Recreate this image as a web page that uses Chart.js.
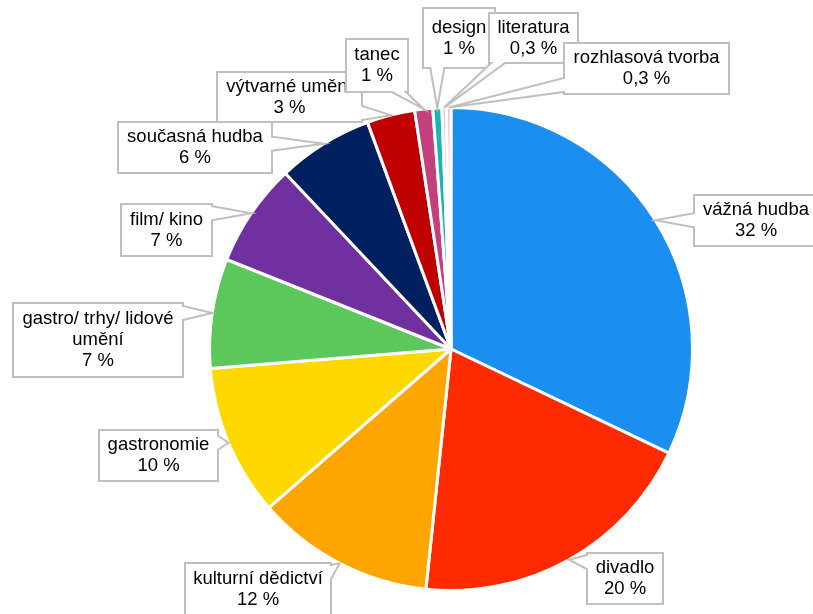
<!DOCTYPE html>
<html>
<head>
<meta charset="utf-8">
<script src="https://cdn.jsdelivr.net/npm/chart.js@4/dist/chart.umd.min.js"></script>
<style>
  html, body { margin: 0; padding: 0; background: #fff; }
  #wrap { width: 813px; height: 614px; }
</style>
</head>
<body>
<div id="wrap"><canvas id="chartObory" width="813" height="614"></canvas></div>
<script>
// ========== DATA ==========
const categories = [
  "vážná hudba", "divadlo", "kulturní dědictví", "gastronomie",
  "gastro/ trhy/ lidové umění", "film/ kino", "současná hudba",
  "výtvarné umění", "tanec", "design", "literatura", "rozhlasová tvorba"
];
const shares = [32.0, 19.5, 11.9, 10.1, 7.3, 6.9, 6.4, 3.2, 1.2, 0.6, 0.3, 0.3];
const colors = [
  "#1B8FEF", "#FF2A00", "#FFA500", "#FFD800", "#5CC85C", "#7030A0",
  "#002060", "#C00000", "#C2407C", "#1AB5B0", "#D6C6F2", "#F4B2E6"
];

// callout boxes (layout only): [left, top, right, bottom]
const labelBoxes = [
  [694, 195, 818, 246], [587, 553, 663, 604], [185, 563, 331, 616],
  [99, 430, 218, 481], [13, 303, 183, 377], [121, 204, 212, 256],
  [118, 122, 272, 173], [217, 72, 362, 122], [346, 39, 408, 92],
  [423, 8, 495, 68], [489, 13, 578, 63], [564, 43, 729, 94]
];

// ========== HELPERS ==========
const FONT = '18.5px "Liberation Sans", Arial, sans-serif';
const LINE_H = 21;

function formatPct(v) {
  if (v >= 0.5) return Math.round(v) + " %";
  return v.toFixed(1).replace(".", ",") + " %";
}

function wrapText(ctx, text, maxW) {
  const words = text.split(" ");
  const lines = [];
  let cur = "";
  words.forEach(w => {
    const test = cur ? cur + " " + w : w;
    if (cur && ctx.measureText(test).width > maxW) {
      lines.push(cur);
      cur = w;
    } else {
      cur = test;
    }
  });
  if (cur) lines.push(cur);
  return lines;
}

function clamp(v, a, b) { return Math.max(a, Math.min(b, v)); }

// rectangle with a wedge pointing at the slice
function calloutPath(ctx, box, tip) {
  const [x1, y1, x2, y2] = box;
  const dx = tip.x < x1 ? x1 - tip.x : (tip.x > x2 ? tip.x - x2 : 0);
  const dy = tip.y < y1 ? y1 - tip.y : (tip.y > y2 ? tip.y - y2 : 0);
  const hw = 7;
  let side;
  if (dx > dy * 1.2) side = tip.x < x1 ? "left" : "right";
  else side = tip.y < y1 ? "top" : "bottom";

  ctx.beginPath();
  ctx.moveTo(x1, y1);
  if (side === "top") {
    const c = clamp(tip.x, x1 + hw + 2, x2 - hw - 2);
    ctx.lineTo(c - hw, y1); ctx.lineTo(tip.x, tip.y); ctx.lineTo(c + hw, y1);
  }
  ctx.lineTo(x2, y1);
  if (side === "right") {
    const c = clamp(tip.y, y1 + hw + 2, y2 - hw - 2);
    ctx.lineTo(x2, c - hw); ctx.lineTo(tip.x, tip.y); ctx.lineTo(x2, c + hw);
  }
  ctx.lineTo(x2, y2);
  if (side === "bottom") {
    const c = clamp(tip.x, x1 + hw + 2, x2 - hw - 2);
    ctx.lineTo(c + hw, y2); ctx.lineTo(tip.x, tip.y); ctx.lineTo(c - hw, y2);
  }
  ctx.lineTo(x1, y2);
  if (side === "left") {
    const c = clamp(tip.y, y1 + hw + 2, y2 - hw - 2);
    ctx.lineTo(x1, c + hw); ctx.lineTo(tip.x, tip.y); ctx.lineTo(x1, c - hw);
  }
  ctx.closePath();
}

// ========== CALLOUT PLUGIN ==========
const calloutLabels = {
  id: "calloutLabels",
  afterDatasetsDraw(chart) {
    const ctx = chart.ctx;
    const meta = chart.getDatasetMeta(0);
    ctx.save();
    ctx.font = FONT;
    meta.data.forEach((arc, i) => {
      const p = arc.getProps(["x", "y", "startAngle", "endAngle", "outerRadius"], true);
      const mid = (p.startAngle + p.endAngle) / 2;
      const tip = {
        x: p.x + Math.cos(mid) * p.outerRadius,
        y: p.y + Math.sin(mid) * p.outerRadius
      };
      const box = labelBoxes[i];
      calloutPath(ctx, box, tip);
      ctx.fillStyle = "#ffffff";
      ctx.fill();
      ctx.strokeStyle = "#BFBFBF";
      ctx.lineWidth = 2;
      ctx.lineJoin = "miter";
      ctx.stroke();

      const lines = wrapText(ctx, categories[i], box[2] - box[0] - 10);
      lines.push(formatPct(shares[i]));
      const cx = (box[0] + box[2]) / 2;
      const cy = (box[1] + box[3]) / 2;
      const startY = cy - (lines.length - 1) * LINE_H / 2;
      ctx.fillStyle = "#000000";
      ctx.textAlign = "center";
      ctx.textBaseline = "middle";
      lines.forEach((ln, k) => ctx.fillText(ln, cx, startY + k * LINE_H));
    });
    ctx.restore();
  }
};

// ========== CHART ==========
new Chart(document.getElementById("chartObory"), {
  type: "pie",
  data: {
    labels: categories,
    datasets: [{
      data: shares,
      backgroundColor: colors,
      borderColor: "#ffffff",
      borderWidth: 3
    }]
  },
  options: {
    responsive: false,
    animation: false,
    layout: { padding: { left: 208, right: 119, top: 106, bottom: 22 } },
    plugins: {
      legend: { display: false },
      tooltip: { enabled: false }
    }
  },
  plugins: [calloutLabels]
});
</script>
</body>
</html>
